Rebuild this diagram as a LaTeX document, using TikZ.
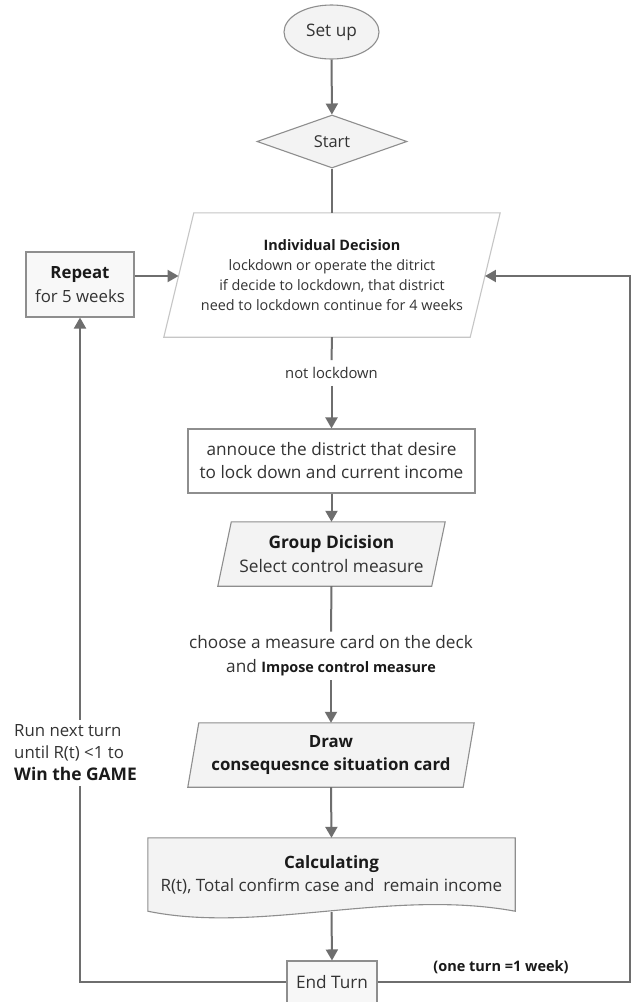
\documentclass[tikz,border=0pt]{standalone}
\usepackage{fontspec}
\setmainfont{Open Sans}
\usetikzlibrary{arrows.meta,shapes.geometric,calc}
\pgfdeclarelayer{bg}
\pgfsetlayers{bg,main}
\definecolor{ln}{HTML}{6E6E6E}
\definecolor{bd}{HTML}{8E8E8E}
\definecolor{lbd}{HTML}{C6C6C6}
\definecolor{fl}{HTML}{F3F3F3}
\definecolor{tx}{HTML}{333333}
\definecolor{bk}{HTML}{1A1A1A}
\begin{document}
\begin{tikzpicture}[x=1pt,y=-1pt,
  conn/.style={draw=ln, line width=2pt, -{Triangle[length=11pt,width=12pt]}},
  plain/.style={draw=ln, line width=2pt},
  shp/.style={draw=bd, line width=1.1pt, fill=fl},
  body/.style={text=tx, align=center, inner sep=0pt},
  lbl/.style={text=tx, align=center, fill=white, inner xsep=2pt},
  fbig/.style={font=\fontsize{17.2}{23}\selectfont},
]
\useasboundingbox (0,0) rectangle (633,1002);
\clip (0,0) rectangle (633,1002);
\begin{pgfonlayer}{bg}
\fill[white] (0,0) rectangle (633,1002);
\end{pgfonlayer}

% nodes
\node[shp, ellipse, body, fbig, minimum width=95pt, minimum height=54pt] (setup) at (331.5,32) {Set up};
\node[shp, diamond, body, aspect=2.8, minimum width=150pt, minimum height=53pt, font=\fontsize{16.4}{20}\selectfont] (start) at (332,141.5) {Start};
\node[body, minimum width=336pt, minimum height=124pt, font=\fontsize{14.4}{20}\selectfont] (ind) at (332,275)
  {{\color{bk}\bfseries Individual Decision}\\lockdown or operate the ditrict\\if decide to lockdown, that district\\need to lockdown continue for 4 weeks};
\node[shp, fill=fl!60, body, minimum width=108pt, minimum height=65pt, font=\fontsize{16.8}{24}\selectfont] (repeat) at (80,284.5)
  {{\color{bk}\bfseries Repeat}\\for 5 weeks};
\node[lbl, font=\fontsize{14.8}{17}\selectfont, inner ysep=7pt] (nl) at (331.5,373) {not lockdown};
\node[shp, fill=white, body, fbig, minimum width=287pt, minimum height=64pt] (ann) at (331.5,461)
  {annouce the district that desire\\to lock down and current income};
\node[body, minimum width=227pt, minimum height=64pt, font=\fontsize{17.3}{24}\selectfont] (grp) at (331.5,554)
  {{\color{bk}\bfseries Group Dicision}\\Select control measure};
\node[lbl, font=\fontsize{17.2}{24}\selectfont, inner ysep=4pt] (ch) at (331,656)
  {choose a measure card on the deck\\and {\color{bk}\bfseries\fontsize{14.4}{24}\selectfont Impose control measure}};
\node[body, minimum width=286pt, minimum height=64pt, font=\fontsize{16.8}{23}\selectfont\bfseries, text=bk] (drw) at (331,755)
  {Draw\\consequesnce situation card};
\node[body, minimum width=367pt, minimum height=73pt, font=\fontsize{17}{23}\selectfont] (calc) at (331.5,874.5)
  {{\color{bk}\bfseries Calculating}\\R(t), Total confirm case and\ \ remain income};
\node[shp, fill=fl!70, body, fbig, minimum width=90pt, minimum height=42pt] (end) at (332,982) {End Turn};
\node[lbl, anchor=west, align=left, inner xsep=0pt, inner ysep=5pt, font=\fontsize{16.8}{22}\selectfont] (rn) at (14,753)
  {Run next turn\\until R(t) <1 to\\{\color{bk}\bfseries\fontsize{17.4}{22}\selectfont Win the GAME}};
\node[text=bk, font=\fontsize{14.5}{17}\selectfont\bfseries] (one) at (501,967) {(one turn =1 week)};

% shapes drawn behind
\begin{pgfonlayer}{bg}
  \draw[draw=lbd, line width=1.1pt, fill=white] ([xshift=30pt]ind.north west) -- (ind.north east)
     -- ([xshift=-30pt]ind.south east) -- (ind.south west) -- cycle;
  \draw[shp] ([xshift=13.5pt]grp.north west) -- (grp.north east)
     -- ([xshift=-13.5pt]grp.south east) -- (grp.south west) -- cycle;
  \draw[shp] ([xshift=11pt]drw.north west) -- (drw.north east)
     -- ([xshift=-11pt]drw.south east) -- (drw.south west) -- cycle;
  \draw[shp] (calc.south west) -- (calc.north west) -- (calc.north east) -- (calc.south east)
     .. controls ($(calc.south east)+(-125,-23)$) and ($(calc.south west)+(112,23)$) .. (calc.south west) -- cycle;
\end{pgfonlayer}

% connector coordinates
\coordinate (indL) at ($([xshift=30pt]ind.north west)!0.508!(ind.south west)$);
\coordinate (indR) at ($(ind.north east)!0.508!([xshift=-30pt]ind.south east)$);
\coordinate (rc) at (630,982);

% connectors
\draw[conn] (setup) -- (start);
\draw[plain] (start.south) -- (ind.north);
\draw[plain] (ind.south) -- (nl.north);
\draw[conn] (nl.south) -- (ann.north);
\draw[conn] (ann.south) -- (grp.north);
\draw[plain] (grp.south) -- (ch.north);
\draw[conn] (ch.south) -- (drw.north);
\draw[conn] (drw.south) -- (calc.north);
\draw[conn] ([yshift=-1pt]calc.south) -- (end.north);
\draw[conn] (repeat.east |- indL) -- (indL);
\draw[plain] (end.west) -| (rn.south -| repeat.south);
\draw[conn] (rn.north -| repeat.south) -- (repeat.south);
\draw[conn] (end.east) -- (rc) |- (indR);
\end{tikzpicture}
\end{document}
